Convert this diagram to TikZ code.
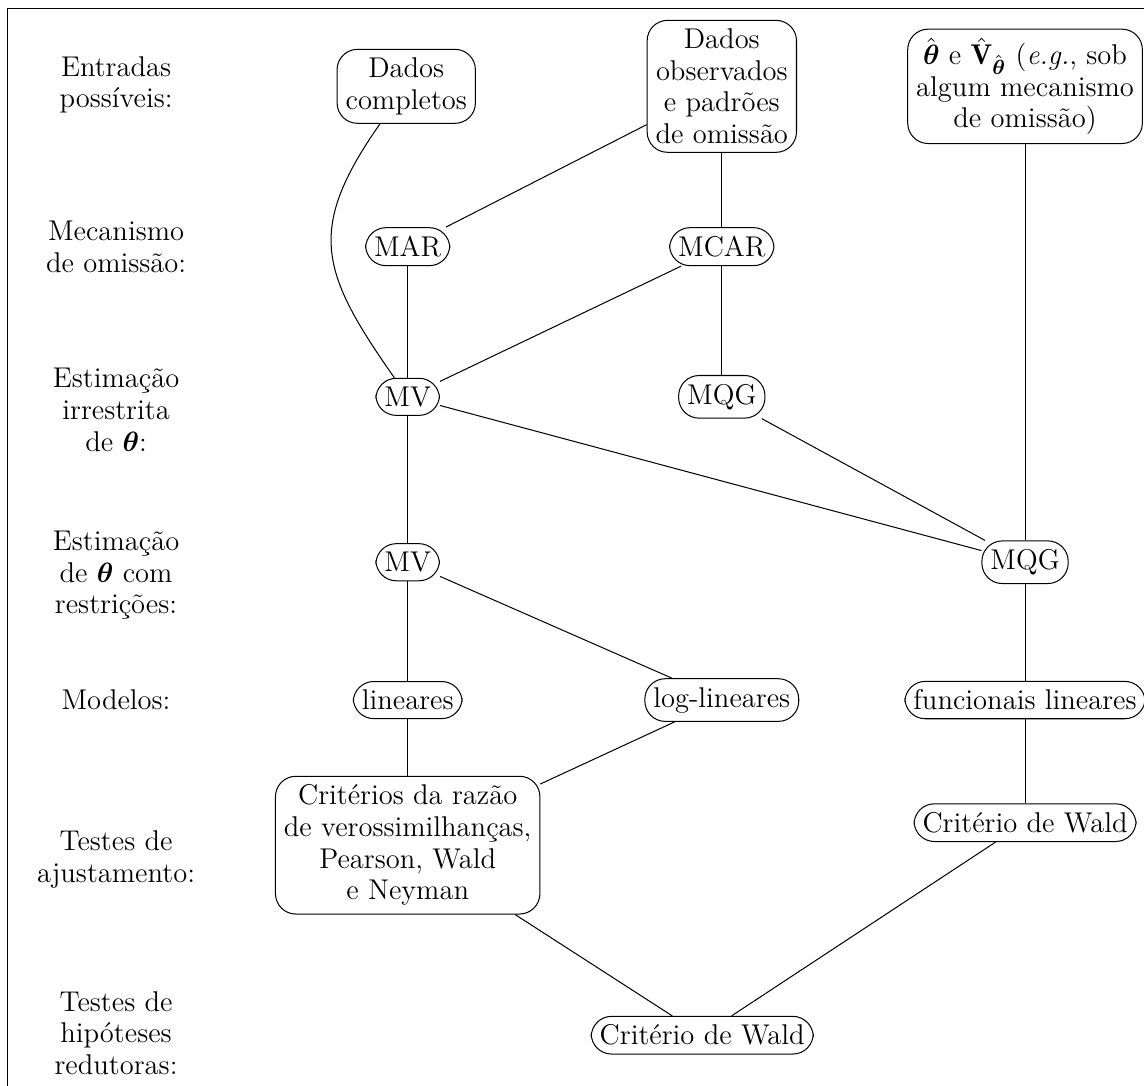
\documentclass[tikz,border=0pt]{standalone}
\usepackage{fontspec}
\usepackage{amsmath}
\begin{document}
\begin{tikzpicture}[
  every node/.style={font=\fontsize{11.2}{12.4}\selectfont},
  rowname/.style={align=center},
  method/.style={draw, rounded corners=8pt, align=center}]

\useasboundingbox (0,0) rectangle (15.77,-14.97);

% frame
\draw (0.11,-0.12) rectangle (16.5,-15.5);

% row names
\node [rowname] (r1) at (1.60,-1.17) {Entradas\\possíveis:};
\node [rowname] (r2) at (1.60,-3.40) {Mecanismo\\de omissão:};
\node [rowname] (r3) at (1.60,-5.65) {Estimação\\irrestrita\\de $\boldsymbol{\theta}$:};
\node [rowname] (r4) at (1.60,-7.93) {Estimação\\de $\boldsymbol{\theta}$ com\\restrições:};
\node [rowname] (r5) at (1.60,-9.65) {Modelos:};
\node [rowname] (r6) at (1.60,-11.85) {Testes de\\ajustamento:};
\node [rowname] (r7) at (1.60,-14.24) {Testes de\\hipóteses\\redutoras:};

% inputs
\node [method] (dc) at (5.60,-1.19) {Dados\\completos};
\node [method] (dobs) at (9.95,-1.19) {Dados\\observados\\e padrões\\de omissão};
\node [method] (theta) at (14.13,-1.19) {$\hat{\boldsymbol{\theta}}$ e $\hat{\mathbf{V}}_{\hat{\boldsymbol{\theta}}}$ (\emph{e.g.}, sob\\algum mecanismo\\de omissão)};

% mechanisms
\node [method] (mar) at (5.62,-3.40) {MAR};
\node [method] (mcar) at (9.95,-3.40) {MCAR};

% unrestricted estimation
\node [method] (mv1) at (5.62,-5.47) {MV};
\node [method] (mqg1) at (9.95,-5.47) {MQG};

% restricted estimation
\node [method] (mv2) at (5.62,-7.75) {MV};
\node [method] (mqg2) at (14.13,-7.75) {MQG};

% models
\node [method] (lin) at (5.62,-9.65) {lineares};
\node [method] (loglin) at (9.95,-9.65) {log-lineares};
\node [method] (funlin) at (14.13,-9.65) {funcionais lineares};

% goodness of fit
\node [method] (crit) at (5.62,-11.65) {Critérios da razão\\de verossimilhanças,\\Pearson, Wald\\e Neyman};
\node [method] (wald1) at (14.13,-11.34) {Critério de Wald};

% reducing hypotheses
\node [method] (wald2) at (9.68,-14.27) {Critério de Wald};

% connections
\draw (dc) to [out=235, in=125, looseness=1.3] (mv1);
\draw (dobs) -- (mar);
\draw (dobs) -- (mcar);
\draw (mar) -- (mv1);
\draw (mcar) -- (mv1);
\draw (mcar) -- (mqg1);
\draw (mv1) -- (mqg2);
\draw (mqg1) -- (mqg2);
\draw (theta) -- (mqg2);
\draw (mv1) -- (mv2);
\draw (mv2) -- (lin);
\draw (mv2) -- (loglin);
\draw (mqg2) -- (funlin);
\draw (lin) -- (crit);
\draw (loglin) -- (crit);
\draw (funlin) -- (wald1);
\draw (crit) -- (wald2);
\draw (wald1) -- (wald2);

\end{tikzpicture}
\end{document}
